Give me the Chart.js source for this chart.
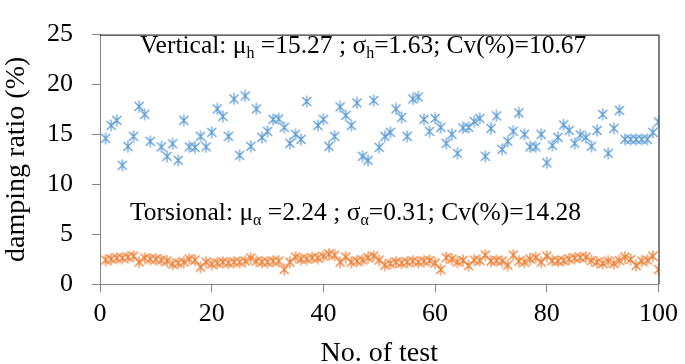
<!DOCTYPE html>
<html lang="en">
<head>
    <meta charset="UTF-8">
    <title>Damping ratio per test</title>
    <script src="https://cdn.jsdelivr.net/npm/chart.js"></script>
    <style>
        html, body {
            margin: 0;
            padding: 0;
            background: #fff;
        }

        #wrap {
            width: 685px;
            height: 364px;
        }
    </style>
</head>
<body>

<div id="wrap">
    <canvas id="dampGraph" width="685" height="364"></canvas>
</div>

<script>
    // test numbers 1..100
    const testNo = [
        1, 2, 3, 4, 5, 6, 7, 8, 9, 10, 11, 12, 13, 14, 15, 16, 17, 18, 19, 20,
        21, 22, 23, 24, 25, 26, 27, 28, 29, 30, 31, 32, 33, 34, 35, 36, 37, 38, 39, 40,
        41, 42, 43, 44, 45, 46, 47, 48, 49, 50, 51, 52, 53, 54, 55, 56, 57, 58, 59, 60,
        61, 62, 63, 64, 65, 66, 67, 68, 69, 70, 71, 72, 73, 74, 75, 76, 77, 78, 79, 80,
        81, 82, 83, 84, 85, 86, 87, 88, 89, 90, 91, 92, 93, 94, 95, 96, 97, 98, 99, 100
    ];

    // vertical damping ratio (%)
    const verticalVals = [
        14.6, 15.9, 16.4, 11.9, 13.8, 14.8, 17.8, 17.0, 14.3, null,
        13.75, 12.8, 14.05, 12.4, 16.4, 13.75, 13.7, 14.8, 13.75, 15.2,
        17.55, 16.8, 14.8, 18.55, 12.9, 18.85, 13.8, 17.55, 14.7, 15.3,
        16.5, 16.55, 15.7, 14.1, 15.0, 14.5, 18.3, null, 15.9, 16.5,
        13.8, 14.8, 17.75, 16.9, 15.9, 18.15, 12.8, 12.4, 18.4, 13.7,
        14.8, 15.2, 17.55, 16.7, 14.8, 18.55, 18.75, 16.5, 15.3, 16.6,
        15.7, 14.1, 15.0, 13.1, 15.65, 15.7, 16.3, 16.6, 12.8, 15.6,
        16.85, 13.5, 14.3, 15.3, 17.15, 15.0, 13.75, 13.75, 15.0, 12.15,
        13.9, 14.7, 15.95, 15.4, 14.1, 14.95, 14.7, 13.8, 15.4, 17.0,
        13.1, 15.6, 17.4, 14.5, 14.5, 14.5, 14.5, 14.5, 15.2, 16.25
    ];

    // torsional damping ratio (%)
    const torsionalVals = [
        2.4, 2.5, 2.6, 2.6, 2.7, 2.8, 2.2, 2.6, 2.5, 2.5,
        2.4, 2.3, 2.0, 2.1, 2.2, 2.5, 2.4, 1.7, 2.2, 2.0,
        2.1, 2.2, 2.1, 2.2, 2.2, 2.3, 2.6, 2.3, 2.2, 2.2,
        2.3, 2.3, 1.45, 2.2, 2.7, 2.5, 2.5, 2.65, 2.6, 2.8,
        3.0, 2.9, 2.2, 2.7, 2.2, 2.3, 2.4, 2.65, 2.8, 2.4,
        1.9, 2.05, 2.2, 2.1, 2.2, 2.3, 2.2, 2.3, 2.35, 2.1,
        1.45, 2.65, 2.5, 2.2, 2.35, 1.85, 2.4, 2.35, 2.9, 2.3,
        2.35, 2.3, 1.9, 2.9, 2.3, 2.2, 2.5, 2.65, 2.2, 2.8,
        2.35, 2.3, 2.35, 2.5, 2.6, 2.65, 2.7, 2.35, 2.2, 2.05,
        2.3, 2.05, 2.35, 2.7, 2.45, 1.85, 2.3, 2.4, 2.8, 1.45
    ];

    const xTicks = [0, 20, 40, 60, 80, 100];
    const yTicks = [0, 5, 10, 15, 20, 25];

    const vertText = [['Vertical: \u03bc', ''], ['h', 'sub'], [' =15.27 ; \u03c3', ''], ['h', 'sub'], ['=1.63; Cv(%)=10.67', '']];
    const torsText = [['Torsional: \u03bc', ''], ['\u03b1', 'sub'], [' =2.24 ; \u03c3', ''], ['\u03b1', 'sub'], ['=0.31; Cv(%)=14.28', '']];

    const serif = '"Liberation Serif", "DejaVu Serif", serif';
    const axisGray = '#868686';

    // excel style star marker: vertical bar plus an x
    function makeStar(color) {
        const c = document.createElement('canvas');
        c.width = 12;
        c.height = 13;
        const g = c.getContext('2d');
        g.strokeStyle = color;
        g.lineWidth = 1.2;
        g.beginPath();
        g.moveTo(6, 0.5);
        g.lineTo(6, 12.5);
        g.moveTo(1.5, 2);
        g.lineTo(10.5, 11);
        g.moveTo(10.5, 2);
        g.lineTo(1.5, 11);
        g.stroke();
        return c;
    }

    function toPoints(vals) {
        return testNo.map((n, i) => ({ x: n, y: vals[i] }));
    }

    function drawRich(ctx, parts, x, y, size) {
        let cx = x;
        parts.forEach(p => {
            if (p[1] === 'sub') {
                ctx.font = Math.round(size * 0.62) + 'px ' + serif;
                ctx.fillText(p[0], cx, y + size * 0.18);
            } else {
                ctx.font = size + 'px ' + serif;
                ctx.fillText(p[0], cx, y);
            }
            cx += ctx.measureText(p[0]).width;
        });
    }

    const annotations = {
        id: 'annotations',
        afterDraw(chart) {
            const ctx = chart.ctx;
            const a = chart.chartArea;
            ctx.save();
            // black frame on top and right
            ctx.strokeStyle = '#000';
            ctx.lineWidth = 1;
            ctx.beginPath();
            ctx.moveTo(a.left, a.top + 0.5);
            ctx.lineTo(a.right + 0.5, a.top + 0.5);
            ctx.lineTo(a.right + 0.5, a.bottom);
            ctx.stroke();

            ctx.fillStyle = '#000';
            ctx.textBaseline = 'alphabetic';
            drawRich(ctx, vertText, 140, 53, 25.5);
            drawRich(ctx, torsText, 130, 220, 25.5);
            ctx.restore();
        }
    };

    const ctx = document.getElementById('dampGraph').getContext('2d');
    const dampChart = new Chart(ctx, {
        type: 'scatter',
        data: {
            datasets: [
                {
                    label: 'Vertical',
                    data: toPoints(verticalVals),
                    pointStyle: makeStar('#5B9BD5'),
                    borderColor: '#5B9BD5',
                    backgroundColor: '#5B9BD5'
                },
                {
                    label: 'Torsional',
                    data: toPoints(torsionalVals),
                    pointStyle: makeStar('#ED7D31'),
                    borderColor: '#ED7D31',
                    backgroundColor: '#ED7D31'
                }
            ]
        },
        options: {
            responsive: false,
            animation: false,
            layout: {
                padding: { top: 10, right: 24, left: 0, bottom: 0 }
            },
            plugins: {
                legend: { display: false },
                tooltip: { enabled: false }
            },
            scales: {
                x: {
                    type: 'linear',
                    min: 0,
                    max: 100,
                    afterBuildTicks: s => { s.ticks = xTicks.map(v => ({ value: v })); },
                    afterFit: s => { s.height = 80; },
                    border: { display: true, color: axisGray, width: 1 },
                    grid: { drawOnChartArea: false, drawTicks: true, tickLength: 8, color: axisGray },
                    ticks: {
                        color: '#000',
                        padding: 7,
                        maxRotation: 0,
                        font: { family: serif, size: 26 }
                    },
                    title: {
                        display: true,
                        text: 'No. of test',
                        color: '#000',
                        padding: { top: 0, bottom: -6 },
                        font: { family: serif, size: 28 }
                    }
                },
                y: {
                    min: 0,
                    max: 25,
                    afterBuildTicks: s => { s.ticks = yTicks.map(v => ({ value: v })); },
                    afterFit: s => { s.width = 100; },
                    border: { display: true, color: axisGray, width: 1 },
                    grid: { drawOnChartArea: false, drawTicks: true, tickLength: 8, color: axisGray },
                    ticks: {
                        color: '#000',
                        padding: 19,
                        font: { family: serif, size: 26 }
                    },
                    title: {
                        display: true,
                        text: 'damping ratio (%)',
                        color: '#000',
                        padding: { top: 0, bottom: 0 },
                        font: { family: serif, size: 28 }
                    }
                }
            }
        },
        plugins: [annotations]
    });
</script>

</body>
</html>
